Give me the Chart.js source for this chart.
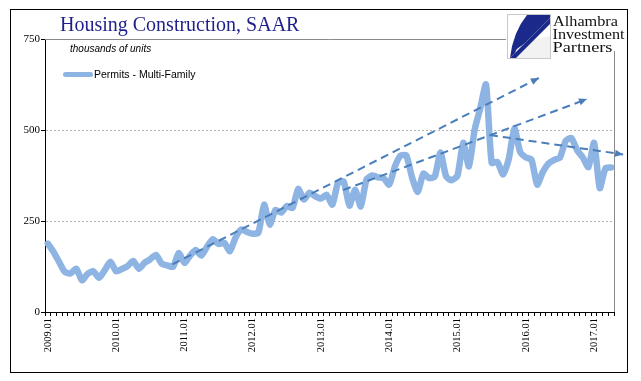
<!DOCTYPE html>
<html><head><meta charset="utf-8">
<script src="https://cdn.jsdelivr.net/npm/chart.js@4.4.1/dist/chart.umd.min.js"></script>
<style>
html,body{margin:0;padding:0;background:#fff;}
#wrap{position:relative;width:641px;height:381px;overflow:hidden;background:#fff;}
#frame{position:absolute;left:10px;top:9px;width:618px;height:364px;border:1px solid #000;box-sizing:border-box;}
#c{position:absolute;left:0;top:0;}
#title{position:absolute;left:60px;top:13px;font:20px "Liberation Serif",serif;color:#1f1f8c;white-space:nowrap;}
#units{position:absolute;left:70px;top:43px;font:italic 10px "Liberation Sans",sans-serif;color:#000;white-space:nowrap;}
#legend{position:absolute;left:63px;top:68px;font:10.5px "Liberation Sans",sans-serif;color:#000;white-space:nowrap;display:flex;align-items:center;}
#legend .sw{display:inline-block;width:30px;height:5px;border-radius:3px;margin-right:1px;}
#logo{position:absolute;left:506px;top:10px;width:121px;height:41px;background:#fff;}
#logoSvg{position:absolute;left:506px;top:10px;}
</style></head>
<body><div id="wrap">
<div id="frame"></div>
<canvas id="c" width="641" height="381"></canvas>
<div id="title">Housing Construction, SAAR</div>
<div id="units">thousands of units</div>
<div id="legend"></div>
<div id="logo"></div>
<svg id="logoSvg" width="121" height="50" viewBox="0 0 121 50">
  <rect x="1.5" y="4.5" width="43" height="44" fill="#fff" stroke="#c8c8c8" stroke-width="1"/>
  <path d="M21,5 L44,5 L44,8 L4,48 Q7,22 21,5 Z" fill="#1b2a8a"/>
  <path d="M10,40 Q20,30 44,26 L44,48 L8,48 Z" fill="#f2f2f2"/>
  <path d="M44,8 L4,48 L10,48 L44,14 Z" fill="#1b2a8a"/>
  <text x="47" y="16" font-family="Liberation Serif" font-size="14.5" fill="#111" textLength="65" lengthAdjust="spacingAndGlyphs">Alhambra</text>
  <text x="46.5" y="29" font-family="Liberation Serif" font-size="14.5" fill="#111" textLength="72" lengthAdjust="spacingAndGlyphs">Investment</text>
  <text x="46.5" y="42" font-family="Liberation Serif" font-size="14.5" fill="#111" textLength="60" lengthAdjust="spacingAndGlyphs">Partners</text>
</svg>
</div>
<script>
// ---- data ----
const yearTickLabels = ['2009.01','2010.01','2011.01','2012.01','2013.01','2014.01','2015.01','2016.01','2017.01'];
const firstYear = 2009;
const monthCount = 100; // 2009.01 .. 2017.04
const categories = [];
for (let k = 0; k < monthCount; k++) {
  const y = firstYear + Math.floor(k / 12), m = (k % 12) + 1;
  categories.push(y + '.' + (m < 10 ? '0' + m : m));
}
const permitsMultiFamily = [
  188,165,137,110,106,119, 87,105,112, 94,115,138,
  112,118,126,140,119,135,145,157,133,128,124,162,
  135,155,170,155,180,200,187,190,167,205,227,220,
  215,218,295,240,280,273,291,286,338,309,328,318,
  312,322,295,355,358,292,336,290,364,375,370,368,
  350,400,430,430,370,330,380,368,372,438,372,362,
  375,465,400,500,560,625,410,412,378,420,505,440,
  425,418,350,385,408,418,424,470,478,445,425,398,
  465,340,395,397
];
// trend arrows: x = month index (fractional), y = thousands of units
const trendUpperX = [21.9, 86.3];
const trendUpperY = [131, 643];
const trendMiddleX = [51.9, 94.75];
const trendMiddleY = [335, 585];
const trendPeakX = [77.7, 101.1];
const trendPeakY = [486, 433];
const yTicks = [0, 250, 500, 750];
const seriesLabel = 'Permits - Multi-Family';

const mainColor = '#8db4e2';
const trendColor = '#4a7ebb';
const pts = (xs, ys) => xs.map((x, k) => ({x: x, y: ys[k]}));

const trendDs = (xs, ys) => ({
  data: pts(xs, ys), xAxisID: 'xt', borderColor: trendColor, borderWidth: 2,
  borderDash: [8, 5], pointRadius: 0, fill: false, tension: 0, order: 0, clip: false, arrow: true
});

const frameLines = {
  id: 'frameLines',
  beforeDatasetsDraw(chart) {
    const {ctx, chartArea: a} = chart;
    ctx.save();
    ctx.strokeStyle = '#8a8a8a'; ctx.lineWidth = 1;
    ctx.beginPath();
    ctx.moveTo(a.left, a.top + 0.5); ctx.lineTo(a.right + 0.5, a.top + 0.5);
    ctx.lineTo(a.right + 0.5, a.bottom);
    ctx.stroke();
    ctx.restore();
  }
};
const arrowHeads = {
  id: 'arrowHeads',
  afterDatasetsDraw(chart) {
    const ctx = chart.ctx;
    chart.data.datasets.forEach((ds, di) => {
      if (!ds.arrow) return;
      const els = chart.getDatasetMeta(di).data;
      const a = els[els.length - 2], b = els[els.length - 1];
      const ang = Math.atan2(b.y - a.y, b.x - a.x);
      ctx.save();
      ctx.translate(b.x, b.y); ctx.rotate(ang);
      ctx.beginPath(); ctx.moveTo(0, 0); ctx.lineTo(-8, -3.5); ctx.lineTo(-8, 3.5); ctx.closePath();
      ctx.fillStyle = ds.borderColor; ctx.fill();
      ctx.restore();
    });
  }
};

const chart = new Chart(document.getElementById('c'), {
  type: 'line',
  data: {
    labels: categories,
    datasets: [
      {label: seriesLabel, data: permitsMultiFamily, borderColor: mainColor, borderWidth: 6.5,
       pointRadius: 0, tension: 0.2, borderJoinStyle: 'round', borderCapStyle: 'round', fill: false, order: 1},
      trendDs(trendUpperX, trendUpperY),
      trendDs(trendMiddleX, trendMiddleY),
      trendDs(trendPeakX, trendPeakY)
    ]
  },
  options: {
    responsive: false, animation: false, devicePixelRatio: 1,
    layout: {padding: {left: 0, top: 39, right: 27, bottom: 0}},
    plugins: {legend: {display: false}, tooltip: {enabled: false}, title: {display: false}},
    scales: {
      x: {
        type: 'category', offset: true,
        afterFit(s) { s.height = 69; },
        grid: {drawOnChartArea: false, drawTicks: true, tickLength: 4, tickColor: '#000', offset: true},
        border: {display: true, color: '#000', width: 1},
        ticks: {
          autoSkip: false, maxRotation: 90, minRotation: 90, padding: 2, color: '#000',
          font: {family: 'Liberation Serif', size: 10.5},
          callback(v, i) { const l = categories[i]; return yearTickLabels.includes(l) ? l : ''; }
        }
      },
      xt: {type: 'linear', display: false, min: -0.5, max: monthCount - 0.5},
      y: {
        min: 0, max: 750,
        afterFit(s) { s.width = 45; },
        afterBuildTicks(s) { s.ticks = yTicks.map(v => ({value: v})); },
        grid: {
          color: c => (c.tick && (c.tick.value === 250 || c.tick.value === 500)) ? '#b4b4b4' : 'rgba(0,0,0,0)',
          tickColor: '#000', tickLength: 4, drawTicks: true
        },
        border: {display: true, color: '#000', width: 1, dash: [2, 2]},
        ticks: {padding: 1, color: '#000', font: {family: 'Liberation Serif', size: 11}}
      }
    }
  },
  plugins: [frameLines, arrowHeads]
});

// html legend built from the dataset
const ds0 = chart.data.datasets[0];
const lg = document.getElementById('legend');
const sw = document.createElement('span'); sw.className = 'sw'; sw.style.background = ds0.borderColor;
lg.appendChild(sw);
lg.appendChild(document.createTextNode(ds0.label));
</script>
</body></html>
